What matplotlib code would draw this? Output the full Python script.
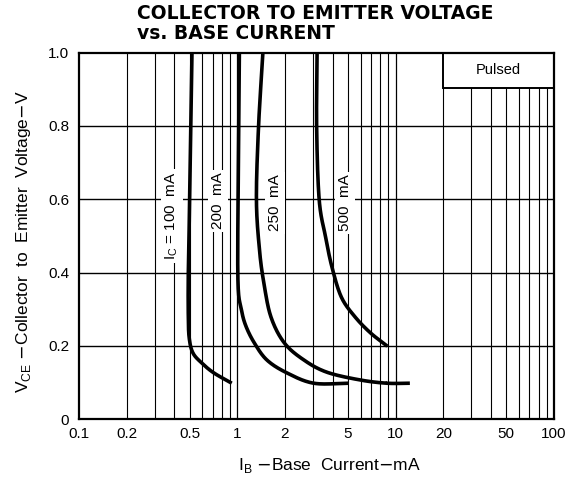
import matplotlib
matplotlib.use("Agg")
import matplotlib.pyplot as plt
from matplotlib.patches import Rectangle
import numpy as np

# curves: I_B (mA) vs V_CE (V)
ib_100 = [0.517, 0.50, 0.49, 0.49, 0.497, 0.525, 0.60, 0.711, 0.922]
vce_100 = [1.0, 0.6, 0.40, 0.28, 0.22, 0.18, 0.152, 0.126, 0.098]

ib_200 = [1.03, 1.01, 1.01, 1.06, 1.13, 1.28, 1.54, 2.06, 3.04, 5.06]
vce_200 = [1.0, 0.6, 0.37, 0.30, 0.255, 0.208, 0.161, 0.126, 0.098, 0.098]

ib_250 = [1.45, 1.36, 1.32, 1.38, 1.47, 1.63, 1.98, 2.64, 3.68, 5.94, 8.79, 12.3]
vce_250 = [1.0, 0.795, 0.598, 0.462, 0.372, 0.279, 0.208, 0.161, 0.128, 0.107, 0.098, 0.098]

ib_500 = [3.19, 3.17, 3.29, 3.61, 3.96, 4.54, 5.54, 6.95, 8.87]
vce_500 = [1.0, 0.795, 0.598, 0.497, 0.415, 0.333, 0.279, 0.235, 0.199]

xticks = [0.1, 0.2, 0.5, 1, 2, 5, 10, 20, 50, 100]
xtick_labels = ["0.1", "0.2", "0.5", "1", "2", "5", "10", "20", "50", "100"]
yticks = [0, 0.2, 0.4, 0.6, 0.8, 1.0]
ytick_labels = ["0", "0.2", "0.4", "0.6", "0.8", "1.0"]

plt.rcParams['font.family'] = ['Liberation Sans', 'DejaVu Sans']

fig = plt.figure(figsize=(5.77, 4.79), dpi=100)
ax = fig.add_axes([0.137, 0.125, 0.823, 0.765])
ax.set_xscale("log")
ax.set_xlim(0.1, 100)
ax.set_ylim(0, 1.0)

# log grid
for dec in [0.1, 1, 10]:
    for m in range(2, 10):
        ax.axvline(dec * m, color="black", lw=0.8, zorder=1)
ax.axvline(1, color="black", lw=0.9, zorder=1)
ax.axvline(10, color="black", lw=0.9, zorder=1)
for v in [0.2, 0.4, 0.6, 0.8]:
    ax.axhline(v, color="black", lw=1.0, zorder=1)

for s in ax.spines.values():
    s.set_linewidth(1.6)


def catmull(ib, vce, n=30):
    # Catmull-Rom spline through the read points, in (log I_B, V_CE) space
    p = np.column_stack([np.log10(ib) * 3.0, np.asarray(vce) * 2.5])
    p = np.vstack([2 * p[0] - p[1], p, 2 * p[-1] - p[-2]])
    out = []
    for i in range(1, len(p) - 2):
        p0, p1, p2, p3 = p[i - 1], p[i], p[i + 1], p[i + 2]
        t = np.linspace(0, 1, n)[:, None]
        seg = 0.5 * ((2 * p1) + (-p0 + p2) * t + (2 * p0 - 5 * p1 + 4 * p2 - p3) * t ** 2
                     + (-p0 + 3 * p1 - 3 * p2 + p3) * t ** 3)
        out.append(seg)
    out = np.vstack(out)
    return 10 ** (out[:, 0] / 3.0), out[:, 1] / 2.5


for ib, vce in [(ib_100, vce_100), (ib_200, vce_200), (ib_250, vce_250), (ib_500, vce_500)]:
    x, y = catmull(ib, vce)
    ax.plot(x, y, color="black", lw=2.6, solid_capstyle="butt", zorder=3)

box = dict(facecolor="white", edgecolor="none", pad=2)
ax.text(0.385, 0.555, r"I$_\mathregular{C}$ = 100  mA", rotation=90, ha="center", va="center",
        fontsize=11, bbox=box, zorder=2)
ax.text(0.755, 0.595, "200  mA", rotation=90, ha="center", va="center", fontsize=11, bbox=box, zorder=2)
ax.text(1.73, 0.59, "250  mA", rotation=90, ha="center", va="center", fontsize=11, bbox=box, zorder=2)
ax.text(4.8, 0.59, "500  mA", rotation=90, ha="center", va="center", fontsize=11, bbox=box, zorder=2)

ax.add_patch(Rectangle((20, 0.904), 80, 0.096, facecolor="white", edgecolor="black",
                       lw=1.4, zorder=2))
ax.text(np.sqrt(20 * 100), 0.952, "Pulsed", ha="center", va="center", fontsize=10.5, zorder=3)

ax.set_xticks(xticks)
ax.set_xticklabels(xtick_labels, fontsize=11)
ax.xaxis.set_minor_locator(matplotlib.ticker.NullLocator())
ax.set_yticks(yticks)
ax.set_yticklabels(ytick_labels, fontsize=11)
ax.tick_params(axis="x", length=0, pad=6)
ax.tick_params(axis="y", length=0, pad=7)

ax.set_xlabel(r"I$_\mathregular{B}$ $-$Base  Current$-$mA", fontsize=12.5)
ax.set_ylabel(r"V$_\mathregular{CE}$ $-$Collector  to  Emitter  Voltage$-$V", fontsize=12.5)
ax.xaxis.set_label_coords(0.527, -0.1)
ax.yaxis.set_label_coords(-0.098, 0.484)

fig.text(0.237, 0.961, "COLLECTOR TO EMITTER VOLTAGE", fontsize=13.5, fontweight="bold",
         family="DejaVu Sans", ha="left", va="baseline")
fig.text(0.237, 0.919, "vs. BASE CURRENT", fontsize=13.5, fontweight="bold",
         family="DejaVu Sans", ha="left", va="baseline")

fig.savefig("out.png", dpi=100)
